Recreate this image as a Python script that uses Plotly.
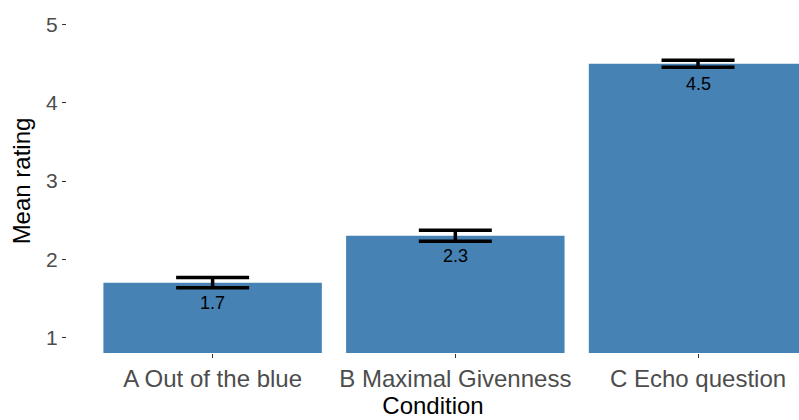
import plotly.graph_objects as go

conditions = ["A Out of the blue", "B Maximal Givenness", "C Echo question"]
mean_rating = [1.7, 2.3, 4.5]
se = [0.065, 0.07, 0.045]
value_labels = ["1.7", "2.3", "4.5"]
y_ticks = [1, 2, 3, 4, 5]

FONT = "Liberation Sans, Arial, sans-serif"

fig = go.Figure()
fig.add_trace(go.Bar(
    x=conditions, y=mean_rating, width=0.9,
    marker=dict(color="#4682B4", line=dict(width=0)),
    error_y=dict(type="data", array=se, visible=True, color="black",
                 thickness=3.5, width=36.5),
    hoverinfo="skip",
))

for c, v, t in zip(conditions, mean_rating, value_labels):
    fig.add_annotation(x=c, y=v, text=t, showarrow=False, yanchor="top",
                       yshift=-8, font=dict(family=FONT, size=18, color="black"))

fig.update_layout(
    width=799, height=420,
    margin=dict(l=67, r=0, t=9, b=67),
    paper_bgcolor="white", plot_bgcolor="white",
    showlegend=False,
    font=dict(family=FONT),
    xaxis=dict(
        range=[-0.6, 2.416], showgrid=False, zeroline=False, showline=False,
        automargin=False,
        ticks="outside", ticklen=4, tickwidth=1, tickcolor="#333333",
        tickfont=dict(size=24, color="#4D4D4D"),
        title=dict(text="Condition", font=dict(size=24, color="black"), standoff=2),
    ),
    yaxis=dict(
        range=[0.8, 5.2], tickvals=y_ticks, showgrid=False, zeroline=False, showline=False,
        automargin=False,
        ticks="outside", ticklen=4, tickwidth=1, tickcolor="#333333",
        tickfont=dict(size=21, color="#4D4D4D"),
        title=dict(text="Mean rating", font=dict(size=24, color="black"), standoff=8),
    ),
)

fig.write_html("out.html", config={"displayModeBar": False},
               post_script="document.body.style.margin='0';document.body.style.padding='0';")
